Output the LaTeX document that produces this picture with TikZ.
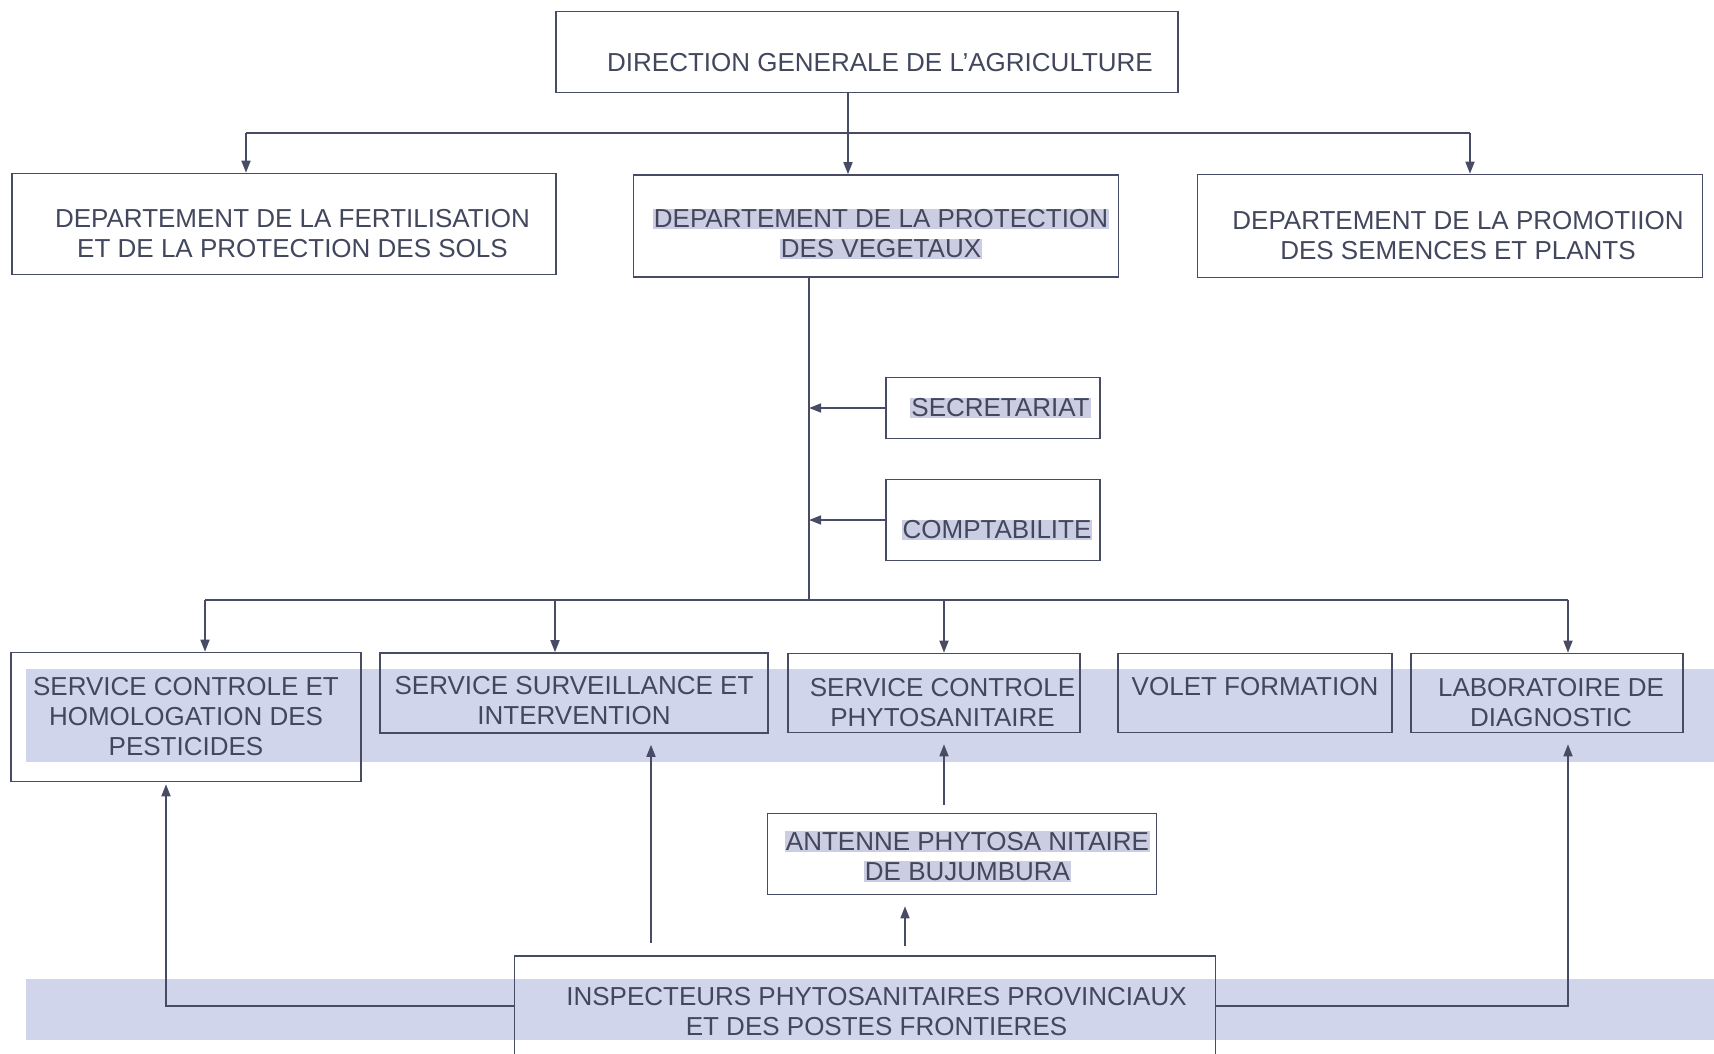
\documentclass[tikz,border=0pt]{standalone}
\usepackage{fontspec}
\setmainfont{Liberation Sans}
\usepackage{xcolor}
\usetikzlibrary{arrows.meta, positioning, calc}
\definecolor{ChartText}{HTML}{42475E}
\definecolor{ChartLine}{HTML}{474B63}
\definecolor{BandBlue}{HTML}{D0D5EC}
\definecolor{MarkGray}{HTML}{CBCEE2}
\newcommand{\chartfont}{\fontsize{26}{30}\selectfont}
\newcommand{\mk}[1]{\colorbox{MarkGray}{#1}}
\newcommand{\ind}[1]{\hspace*{#1pt}}
\newcommand{\dn}[1]{\rule{0pt}{#1pt}}
\setlength{\fboxsep}{1pt}

\begin{document}
\begin{tikzpicture}[x=1pt, y=-1pt,
  orgbox/.style={draw=ChartLine, line width=1.6pt, text=ChartText, font=\chartfont, align=center, inner sep=0pt},
  link/.style={draw=ChartLine, line width=1.6pt},
  arr/.style={link, -{Triangle[length=12pt,width=9pt]}}]
\clip (0,0) rectangle (1714,1054);
\fill[white] (0,0) rectangle (1714,1054);
% highlight bands
\fill[BandBlue] (26,669) rectangle (1714,762);
\fill[BandBlue] (26,979) rectangle (1714,1040);
% direction and departements
\node[orgbox, minimum width=622pt, minimum height=81pt] (dg) at (867,52) {\dn{38.6}\ind{26}DIRECTION GENERALE DE L'AGRICULTURE};
\node[orgbox, minimum width=544pt, minimum height=101pt] (fert) at (284,224) {\dn{37}\ind{17}DEPARTEMENT DE LA FERTILISATION\\\ind{17}ET DE LA PROTECTION DES SOLS};
\node[orgbox, minimum width=485pt, minimum height=102pt] (prot) at (876,226) {\dn{35}\ind{10}\mk{DEPARTEMENT DE LA PROTECTION}\\\ind{10}\mk{DES VEGETAUX}};
\node[orgbox, minimum width=505pt, minimum height=103pt] (prom) at (1450,226) {\dn{37}\ind{16}DEPARTEMENT DE LA PROMOTIION\\\ind{16}DES SEMENCES ET PLANTS};
% appui
\node[orgbox, minimum width=214pt, minimum height=61pt] (sec) at (993,408) {\ind{15}\mk{SECRETARIAT}};
\node[orgbox, minimum width=214pt, minimum height=81pt] (compt) at (993,520) {\dn{38.6}\ind{8}\mk{COMPTABILITE}};
% services
\node[orgbox, minimum width=350pt, minimum height=129pt] (sch) at (186,717) {SERVICE CONTROLE ET\\HOMOLOGATION DES\\PESTICIDES};
\node[orgbox, minimum width=388pt, minimum height=80pt] (ssi) at (574,693) {\dn{34}SERVICE SURVEILLANCE ET\\INTERVENTION};
\node[orgbox, minimum width=292pt, minimum height=79pt] (scp) at (934,693) {\dn{37}\ind{17}SERVICE CONTROLE\\\ind{17}PHYTOSANITAIRE};
\node[orgbox, minimum width=274pt, minimum height=79pt] (vf) at (1255,693) {VOLET FORMATION\rule[-13pt]{0pt}{13pt}};
\node[orgbox, minimum width=272pt, minimum height=79pt] (lab) at (1547,693) {\dn{37}\ind{8}LABORATOIRE DE\\\ind{8}DIAGNOSTIC};
% terrain
\node[orgbox, minimum width=389pt, minimum height=81pt] (ant) at (962,854) {\dn{24}\ind{11}\mk{ANTENNE PHYTOSA NITAIRE}\\\ind{11}\mk{DE BUJUMBURA}};
\node[orgbox, minimum width=701pt, minimum height=100pt] (insp) at (865,1006) {\dn{29.6}\ind{23}INSPECTEURS PHYTOSANITAIRES PROVINCIAUX\\\ind{23}ET DES POSTES FRONTIERES};
% bus coordinates
\coordinate (busA) at (848,133);
\coordinate (busAL) at (246,133);
\coordinate (busAR) at (1470,133);
\coordinate (busB) at (809,600);
\coordinate (busBL) at (205,600);
\coordinate (busBR) at (1568,600);
\coordinate (upL) at (166,0);
\coordinate (upS) at (651,0);
\coordinate (upA) at (905,0);
% top level
\draw[arr] (busA |- dg.south) -- (busA |- prot.north);
\draw[link] (busAL) -- (busAR);
\draw[arr] (busAL) -- (busAL |- fert.north);
\draw[arr] (busAR) -- (busAR |- prom.north);
% departement to services
\draw[link] (busB |- prot.south) -- (busB);
\draw[arr] (sec.west) -- (busB |- sec.west);
\draw[arr] (compt.west) -- (busB |- compt.west);
\draw[link] (busBL) -- (busBR);
\draw[arr] (busBL) -- (busBL |- sch.north);
\draw[arr] (busB -| 555,0) -- (ssi.north -| 555,0);
\draw[arr] (busB -| 944,0) -- (scp.north -| 944,0);
\draw[arr] (busBR) -- (busBR |- lab.north);
% remontees
\draw[arr, shorten <=8pt, shorten >=11pt] (ant.north -| 944,0) -- (scp.south -| 944,0);
\draw[arr, shorten <=9pt, shorten >=11pt] (insp.north -| upA) -- (ant.south -| upA);
\draw[arr, shorten <=12pt, shorten >=11pt] (insp.north -| upS) -- (ssi.south -| upS);
\draw[arr, shorten >=2pt] (insp.west) -- (insp.west -| upL) -- (upL |- sch.south);
\draw[arr, shorten >=11pt] (insp.east) -- (insp.east -| busBR) -- (busBR |- lab.south);
\end{tikzpicture}
\end{document}
